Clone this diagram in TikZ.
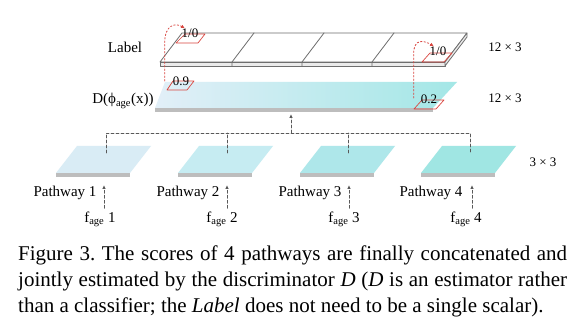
\documentclass[tikz,border=0pt]{standalone}
\usepackage{fontspec}
\setmainfont{Liberation Serif}
\usetikzlibrary{arrows.meta,calc,positioning}
\definecolor{scoreRed}{HTML}{D9453F}
\definecolor{lineGrey}{HTML}{6E6E6E}
\definecolor{edgeGrey}{HTML}{BDBDBD}
\definecolor{plateA}{HTML}{D9ECF5}
\definecolor{plateB}{HTML}{C6ECF2}
\definecolor{plateC}{HTML}{AEE7EA}
\definecolor{plateD}{HTML}{A0E6E3}
\definecolor{barLeft}{HTML}{E2EFF8}
\definecolor{barRight}{HTML}{A3E7E6}

\begin{document}
\begin{tikzpicture}[x=1pt,y=-1pt,>=Latex,line cap=round,line join=round]
\path[fill=white] (0,0) rectangle (587,318);
\tikzset{frame/.style={draw=lineGrey,line width=0.8pt},link/.style={draw=black!65,line width=0.8pt,dash pattern=on 3pt off 2pt},linkhead/.style={-{Latex[length=4pt,width=3.5pt]}},scorebox/.style={draw=scoreRed,line width=0.7pt},scorearc/.style={draw=scoreRed,line width=0.8pt,dash pattern=on 1.5pt off 2pt,-{Latex[length=4pt,width=3.5pt]}},lbl/.style={font=\fontsize{15}{18}\selectfont,inner sep=0pt},dim/.style={font=\fontsize{13}{15}\selectfont,inner sep=0pt},score/.style={font=\fontsize{13}{15}\selectfont,inner sep=0pt}}
% label bar
\path[frame,fill=white] (160,62) -- (182,33) -- (467,33) -- (445,62) -- cycle;
\path[frame,fill=black!8] (160,62) rectangle (445,66);
\path[frame,fill=black!8] (445,62) -- (467,33) -- (467,37) -- (445,66) -- cycle;
\foreach \x in {232,302,372} \draw[frame] (\x,66) -- (\x,62) -- (\x+22,33);
\path[scorebox] (176,43) -- (198,43) -- (205,34) -- (185,34) -- cycle;
\path[scorebox] (422,62) -- (444,62) -- (452,53) -- (430,53) -- cycle;
\node[score] (lblL) at (190,33) {1/0};
\node[score] (lblR) at (438,51) {1/0};
% D bar
\path[fill=edgeGrey] (155,108) rectangle (433,112);
\shade[left color=barLeft,right color=barRight] (155,108) -- (165,82) -- (457,82) -- (433,108) -- cycle;
\path[scorebox] (167,90) -- (187,90) -- (194,81) -- (173,81) -- cycle;
\path[scorebox] (414,109) -- (436,109) -- (444,100) -- (422,100) -- cycle;
\node[score] (dL) at (181,81) {0.9};
\node[score] (dR) at (429,99) {0.2};
\draw[scorearc] ([xshift=-8pt]dL.west) -- ++(0,-38) .. controls +(0,-18) and +(-10,-6) .. ([xshift=-5pt]lblL.north);
\draw[scorearc] ([xshift=-7pt,yshift=1pt]dR.west) -- ++(0,-44) .. controls +(0,-16) and +(-10,-6) .. ([xshift=-4pt]lblR.north);
\node[lbl] (labelTxt) at (125,47) {Label};
\node[lbl] (dTxt) at (123,101) {D(ϕ\textsubscript{age}(x))};
\node[dim] (dimLabel) at (505,47) {12 × 3};
\node[dim] (dimD) at (505,98) {12 × 3};
% pathways
\path[fill=edgeGrey] (56,173) rectangle (130,177);
\path[fill=plateA] (56,173) -- (77,146) -- (151,146) -- (130,173) -- cycle;
\path[fill=edgeGrey] (178,173) rectangle (252,177);
\path[fill=plateB] (178,173) -- (199,146) -- (273,146) -- (252,173) -- cycle;
\path[fill=edgeGrey] (300,173) rectangle (374,177);
\path[fill=plateC] (300,173) -- (321,146) -- (395,146) -- (374,173) -- cycle;
\path[fill=edgeGrey] (421,173) rectangle (495,177);
\path[fill=plateD] (421,173) -- (442,146) -- (516,146) -- (495,173) -- cycle;
\node[dim] (dimP) at (543,162) {3 × 3};
\coordinate (dIn) at (291,114);
\coordinate (hub) at (291,133);
\coordinate (p1top) at (106,153);
\coordinate (p2top) at (227,153);
\coordinate (p3top) at (348,153);
\coordinate (p4top) at (470,153);
\draw[link] (p1top) -- (p1top |- hub) -- (p4top |- hub) -- (p4top);
\draw[link] (p2top) -- (p2top |- hub);
\draw[link] (p3top) -- (p3top |- hub);
\draw[link,linkhead] (hub) -- (dIn);
\coordinate (p1in) at (104,185);
\coordinate (p2in) at (227,185);
\coordinate (p3in) at (349,185);
\coordinate (p4in) at (472,185);
\node[lbl] (path1) at (65,193) {Pathway 1};
\node[lbl] (path2) at (188,193) {Pathway 2};
\node[lbl] (path3) at (310,193) {Pathway 3};
\node[lbl] (path4) at (431,193) {Pathway 4};
\node[lbl] (f1) at (100,219) {f\textsubscript{age} 1};
\node[lbl] (f2) at (222,219) {f\textsubscript{age} 2};
\node[lbl] (f3) at (344,219) {f\textsubscript{age} 3};
\node[lbl] (f4) at (466,219) {f\textsubscript{age} 4};
\draw[link,linkhead] (f1.north -| p1in) ++(0,-3) -- (p1in);
\draw[link,linkhead] (f2.north -| p2in) ++(0,-3) -- (p2in);
\draw[link,linkhead] (f3.north -| p3in) ++(0,-3) -- (p3in);
\draw[link,linkhead] (f4.north -| p4in) ++(0,-3) -- (p4in);
% caption
\node[anchor=north west,inner sep=0pt,text width=549pt,align=justify,font=\fontsize{21}{26}\selectfont\frenchspacing] (caption) at (18,246) {Figure 3. The scores of 4 pathways are finally concatenated and\linebreak jointly estimated by the discriminator \textit{D} (\textit{D} is an estimator rather\linebreak than a classifier; the \textit{Label} does not need to be a single scalar).};
\end{tikzpicture}
\end{document}
